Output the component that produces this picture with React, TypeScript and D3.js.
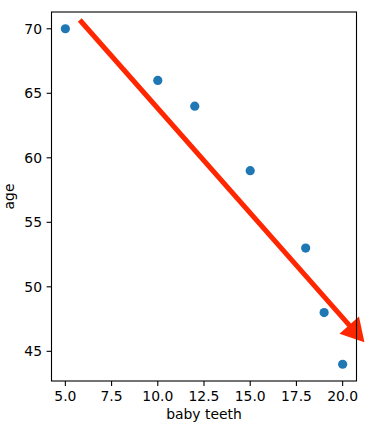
import React from "react";
import * as d3 from "d3";

const babyTeeth = [5, 10, 12, 15, 18, 19, 20];
const ages = [70, 66, 64, 59, 53, 48, 44];
const xTicks = [5.0, 7.5, 10.0, 12.5, 15.0, 17.5, 20.0];
const yTicks = [45, 50, 55, 60, 65, 70];
const arrowStart = [5.78, 70.68];
const arrowEnd = [21.18, 45.7];

const W = 368;
const H = 428;
const M = { left: 51.5, right: 356.5, top: 12, bottom: 381 };
const FONT = "DejaVu Sans, sans-serif";
const FS = 13.9;

export default function App() {
  const x = d3.scaleLinear().domain([4.25, 20.75]).range([M.left, M.right]);
  const y = d3.scaleLinear().domain([42.7, 71.3]).range([M.bottom, M.top]);

  // arrow polygon
  const x0 = x(arrowStart[0]);
  const y0 = y(arrowStart[1]);
  const x1 = x(arrowEnd[0]);
  const y1 = y(arrowEnd[1]);
  const dx = x1 - x0;
  const dy = y1 - y0;
  const len = Math.hypot(dx, dy);
  const ux = dx / len;
  const uy = dy / len;
  const nx = -uy;
  const ny = ux;
  const shaftW = 5;
  const headW = 26;
  const headL = 23;
  const bx = x1 - ux * headL;
  const by = y1 - uy * headL;
  const pts: [number, number][] = [
    [x0 + nx * shaftW / 2, y0 + ny * shaftW / 2],
    [bx + nx * shaftW / 2, by + ny * shaftW / 2],
    [bx + nx * headW / 2, by + ny * headW / 2],
    [x1, y1],
    [bx - nx * headW / 2, by - ny * headW / 2],
    [bx - nx * shaftW / 2, by - ny * shaftW / 2],
    [x0 - nx * shaftW / 2, y0 - ny * shaftW / 2],
  ];
  const arrowPath = d3.line()(pts) + "Z";

  const fmtX = d3.format(".1f");

  return (
    <svg
      width={W}
      height={H}
      style={{ position: "absolute", left: 0, top: 0, background: "#fff" }}
      fontFamily={FONT}
    >
      <rect x={0} y={0} width={W} height={H} fill="#fff" />
      {babyTeeth.map((t, i) => (
        <circle key={i} cx={x(t)} cy={y(ages[i])} r={4.6} fill="#1f77b4" />
      ))}
      <path d={arrowPath} fill="#ff2600" stroke="none" />
      <rect
        x={M.left}
        y={M.top}
        width={M.right - M.left}
        height={M.bottom - M.top}
        fill="none"
        stroke="#000"
        strokeWidth={1.1}
      />
      {xTicks.map((t) => (
        <g key={"x" + t}>
          <line x1={x(t)} x2={x(t)} y1={M.bottom} y2={M.bottom + 4.9} stroke="#000" strokeWidth={1.1} />
          <text x={x(t)} y={401} textAnchor="middle" fontSize={FS} fill="#000">
            {fmtX(t)}
          </text>
        </g>
      ))}
      {yTicks.map((t) => (
        <g key={"y" + t}>
          <line x1={M.left - 4.9} x2={M.left} y1={y(t)} y2={y(t)} stroke="#000" strokeWidth={1.1} />
          <text x={M.left - 9.5} y={y(t)} dy="0.36em" textAnchor="end" fontSize={FS} fill="#000">
            {t}
          </text>
        </g>
      ))}
      <text x={(M.left + M.right) / 2} y={419} textAnchor="middle" fontSize={FS} fill="#000">
        baby teeth
      </text>
      <text
        transform={`translate(14,${(M.top + M.bottom) / 2}) rotate(-90)`}
        textAnchor="middle"
        fontSize={FS}
        fill="#000"
      >
        age
      </text>
    </svg>
  );
}
